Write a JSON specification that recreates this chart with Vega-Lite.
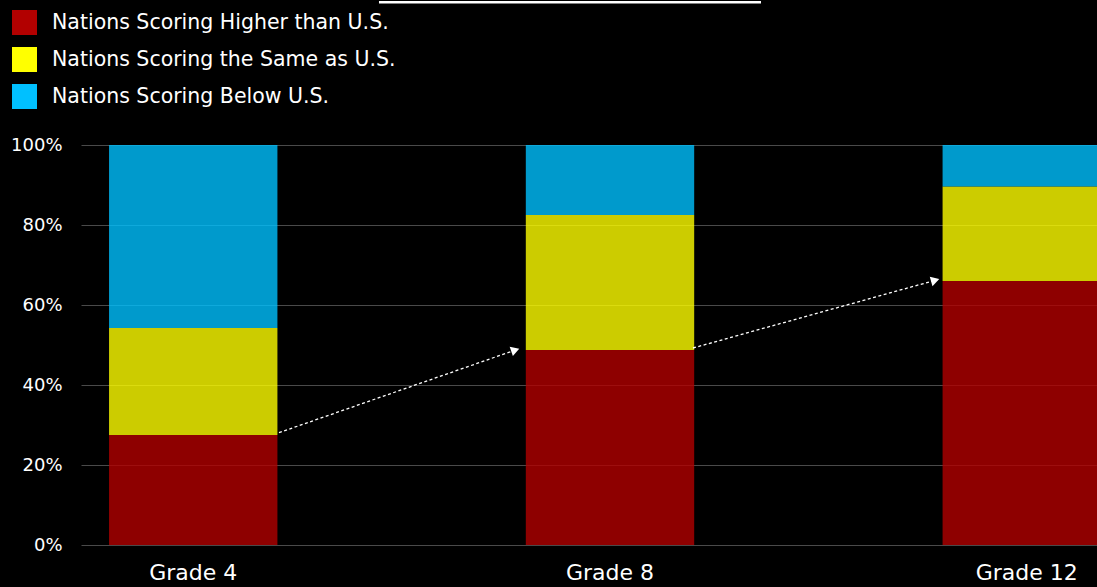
{
  "$schema": "https://vega.github.io/schema/vega-lite/v6.json",
  "width": 1016,
  "height": 400,
  "autosize": {"type": "none"},
  "padding": {"left": 81, "top": 145, "right": 0, "bottom": 42},
  "background": "#000000",
  "config": {
    "view": {"stroke": null},
    "font": "DejaVu Sans"
  },
  "datasets": {
    "shares": [
      {"grade": "Grade 4", "category": "Nations Scoring Higher than U.S.", "k": 1, "share": 0.275},
      {"grade": "Grade 4", "category": "Nations Scoring the Same as U.S.", "k": 2, "share": 0.2675},
      {"grade": "Grade 4", "category": "Nations Scoring Below U.S.", "k": 3, "share": 0.4575},
      {"grade": "Grade 8", "category": "Nations Scoring Higher than U.S.", "k": 1, "share": 0.4875},
      {"grade": "Grade 8", "category": "Nations Scoring the Same as U.S.", "k": 2, "share": 0.3375},
      {"grade": "Grade 8", "category": "Nations Scoring Below U.S.", "k": 3, "share": 0.175},
      {"grade": "Grade 12", "category": "Nations Scoring Higher than U.S.", "k": 1, "share": 0.66},
      {"grade": "Grade 12", "category": "Nations Scoring the Same as U.S.", "k": 2, "share": 0.236},
      {"grade": "Grade 12", "category": "Nations Scoring Below U.S.", "k": 3, "share": 0.104}
    ],
    "arrows": [
      {"arrow": 1, "x0": 0.2067, "y0": 0.2808, "x1": 0.78, "y1": 0.4893, "hx": 0.7747, "hy": 0.4875},
      {"arrow": 2, "x0": 1.2019, "y0": 0.4925, "x1": 1.79, "y1": 0.6635, "hx": 1.7841, "hy": 0.6618}
    ],
    "decor": [
      {"x0": 0.4471, "x1": 1.3654, "y": 1.3568}
    ]
  },
  "layer": [
    {
      "data": {"name": "shares"},
      "mark": {"type": "bar", "opacity": 0.8, "clip": true},
      "encoding": {
        "x": {
          "field": "grade",
          "type": "nominal",
          "sort": ["Grade 4", "Grade 8", "Grade 12"],
          "scale": {"range": [0, 1058], "paddingInner": 0.596, "paddingOuter": 0.0673},
          "axis": {
            "title": null,
            "labelAngle": 0,
            "labelColor": "#ffffff",
            "labelFontSize": 22,
            "labelPadding": 17,
            "ticks": false,
            "domain": false,
            "grid": false
          }
        },
        "y": {
          "field": "share",
          "type": "quantitative",
          "stack": "zero",
          "scale": {"domain": [0, 1], "nice": false},
          "axis": {
            "title": null,
            "format": "%",
            "values": [0, 0.2, 0.4, 0.6, 0.8, 1],
            "labelColor": "#ffffff",
            "labelFontSize": 18,
            "labelPadding": 19,
            "ticks": false,
            "domain": false,
            "grid": true,
            "gridColor": "#4a4a4a",
            "gridWidth": 1.2
          }
        },
        "order": {"field": "k", "type": "quantitative", "sort": "ascending"},
        "color": {
          "field": "category",
          "type": "nominal",
          "scale": {
            "domain": ["Nations Scoring Higher than U.S.", "Nations Scoring the Same as U.S.", "Nations Scoring Below U.S."],
            "range": ["#b20000", "#ffff00", "#00c0ff"]
          },
          "legend": {
            "orient": "none",
            "legendX": -69,
            "legendY": -135,
            "title": null,
            "padding": 0,
            "symbolType": "square",
            "symbolSize": 625,
            "symbolStrokeWidth": 0,
            "symbolOpacity": 1,
            "labelColor": "#ffffff",
            "labelFontSize": 20.5,
            "labelOffset": 15,
            "labelLimit": 500,
            "rowPadding": 12
          }
        }
      }
    },
    {
      "data": {"name": "arrows"},
      "mark": {"type": "rule", "color": "#ffffff", "strokeWidth": 1.3, "strokeDash": [3, 2.5]},
      "encoding": {
        "x": {"field": "x0", "type": "quantitative", "scale": {"domain": [-0.2692, 2.1731], "nice": false, "zero": false}, "axis": null},
        "x2": {"field": "x1"},
        "y": {"field": "y0", "type": "quantitative"},
        "y2": {"field": "y1"}
      }
    },
    {
      "data": {"name": "arrows"},
      "transform": [{"filter": "datum.arrow == 1"}],
      "mark": {"type": "point", "shape": "triangle-right", "filled": true, "color": "#ffffff", "opacity": 1, "size": 95, "angle": -19},
      "encoding": {
        "x": {"field": "hx", "type": "quantitative", "scale": {"domain": [-0.2692, 2.1731], "nice": false, "zero": false}, "axis": null},
        "y": {"field": "hy", "type": "quantitative"}
      }
    },
    {
      "data": {"name": "arrows"},
      "transform": [{"filter": "datum.arrow == 2"}],
      "mark": {"type": "point", "shape": "triangle-right", "filled": true, "color": "#ffffff", "opacity": 1, "size": 95, "angle": -16},
      "encoding": {
        "x": {"field": "hx", "type": "quantitative", "scale": {"domain": [-0.2692, 2.1731], "nice": false, "zero": false}, "axis": null},
        "y": {"field": "hy", "type": "quantitative"}
      }
    },
    {
      "data": {"name": "decor"},
      "mark": {"type": "rule", "color": "#ffffff", "strokeWidth": 2.5},
      "encoding": {
        "x": {"field": "x0", "type": "quantitative", "scale": {"domain": [-0.2692, 2.1731], "nice": false, "zero": false}, "axis": null},
        "x2": {"field": "x1"},
        "y": {"field": "y", "type": "quantitative"}
      }
    }
  ],
  "resolve": {"scale": {"x": "independent"}}
}
